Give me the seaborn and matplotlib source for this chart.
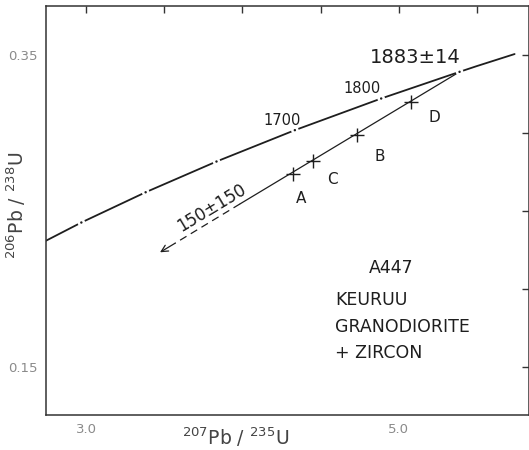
import matplotlib
matplotlib.use("Agg")
import matplotlib.pyplot as plt
import seaborn as sns
import pandas as pd
from matplotlib.ticker import FixedLocator, FixedFormatter

# ---- data ----
concordia_age = [1300, 1400, 1500, 1600, 1700, 1800, 1883, 1900, 1937]
concordia_x = [2.598, 2.970, 3.381, 3.834, 4.335, 4.887, 5.388, 5.496, 5.740]
concordia_y = [0.2234, 0.2426, 0.2620, 0.2817, 0.3018, 0.3221, 0.3392, 0.3428, 0.3506]
mark_ages = [1400, 1500, 1600, 1700, 1800, 1883]
age_labels = ["1700", "1800"]

sample_labels = ["A", "C", "B", "D"]
sample_x = [4.32, 4.45, 4.73, 5.08]
sample_y = [0.274, 0.282, 0.299, 0.320]

discordia_solid_x = [5.388, 3.984]
discordia_solid_y = [0.3392, 0.2545]
discordia_dash_x = [3.984, 3.569]
discordia_dash_y = [0.2545, 0.2293]
arrow_tip_x = 3.473
arrow_tip_y = 0.2235

upper_intercept = "1883±14"
lower_intercept = "150±150"
legend_lines = ["A447", "KEURUU", "GRANODIORITE", "+ ZIRCON"]

x_ticks = [3.0, 3.5, 4.0, 4.5, 5.0, 5.5]
x_tick_labels = ["3.0", "", "", "", "5.0", ""]
y_ticks = [0.15, 0.20, 0.25, 0.30, 0.35]
y_tick_labels = ["0.15", "", "", "", "0.35"]

# ---- style ----
sns.set_style("white")
plt.rcParams["font.family"] = ["DejaVu Sans"]

ink = "#1e1e1e"
grey = "#8a8a8a"

fig = plt.figure(figsize=(5.29, 4.50), dpi=100)
ax = fig.add_axes([46 / 529, 1 - 415 / 450, 483 / 529, 409 / 450])

conc = pd.DataFrame({"age": concordia_age, "x": concordia_x, "y": concordia_y})
sns.lineplot(data=conc, x="x", y="y", sort=False, color=ink, lw=1.3, ax=ax)

marks = conc[conc["age"].isin(mark_ages)]
sns.scatterplot(data=marks, x="x", y="y", marker="o", s=30, color="white",
                edgecolor="none", ax=ax, zorder=3)
sns.scatterplot(data=marks, x="x", y="y", marker="o", s=3, color=ink,
                edgecolor="none", ax=ax, zorder=4)

sns.lineplot(x=discordia_solid_x, y=discordia_solid_y, sort=False, color=ink,
             lw=0.9, ax=ax)
ax.plot(discordia_dash_x, discordia_dash_y, color=ink, lw=0.9,
        linestyle=(0, (6, 4)))
ax.annotate("", xy=(arrow_tip_x, arrow_tip_y),
            xytext=(discordia_dash_x[-1], discordia_dash_y[-1]),
            arrowprops=dict(arrowstyle="->", color=ink, lw=0.9,
                            mutation_scale=12, shrinkA=0, shrinkB=0))

samples = pd.DataFrame({"label": sample_labels, "x": sample_x, "y": sample_y})
sns.scatterplot(data=samples, x="x", y="y", marker="+", s=110, color=ink,
                linewidth=1.0, ax=ax, zorder=5)

# ---- text ----
ax.text(5.103, 0.3481, upper_intercept, fontsize=14, color=ink,
        ha="center", va="center")
ax.text(4.253, 0.3083, age_labels[0], fontsize=10.5, color=ink,
        ha="center", va="center")
ax.text(4.764, 0.3288, age_labels[1], fontsize=10.5, color=ink,
        ha="center", va="center")
label_pos = {"A": (4.374, 0.2583), "C": (4.573, 0.2699),
             "B": (4.880, 0.2846), "D": (5.225, 0.3096)}
for lab in sample_labels:
    px, py = label_pos[lab]
    ax.text(px, py, lab, fontsize=11, color=ink, ha="center", va="center")
ax.text(3.80, 0.2522, lower_intercept, fontsize=12, color=ink,
        ha="center", va="center", rotation=31, rotation_mode="anchor")

ax.text(4.950, 0.2135, legend_lines[0], fontsize=12.5, color=ink,
        ha="center", va="center")
for txt, yy in zip(legend_lines[1:], [0.1929, 0.1756, 0.1590]):
    ax.text(4.592, yy, txt, fontsize=12.5, color=ink, ha="left", va="center")

# ---- axes ----
ax.set_xlim(2.744, 5.832)
ax.set_ylim(0.1192, 0.3814)
ax.set_xlabel("")
ax.set_ylabel("")
ax.xaxis.set_major_locator(FixedLocator(x_ticks))
ax.xaxis.set_major_formatter(FixedFormatter(x_tick_labels))
ax.yaxis.set_major_locator(FixedLocator(y_ticks))
ax.yaxis.set_major_formatter(FixedFormatter(y_tick_labels))
ax.tick_params(direction="in", length=5, width=1.0, color="#333333",
               labelcolor=grey, labelsize=9.5, top=True, right=True, pad=6)
for s in ax.spines.values():
    s.set_color("#333333")
    s.set_linewidth(1.1)

fig.text(236 / 529, 1 - 437 / 450, r"$^{207}$Pb / $^{235}$U", fontsize=13.5,
         color="#444444", ha="center", va="center")
fig.text(16 / 529, 1 - 205 / 450, r"$^{206}$Pb / $^{238}$U", fontsize=13.5,
         color="#444444", ha="center", va="center", rotation=90)

fig.savefig("out.png", dpi=100)
